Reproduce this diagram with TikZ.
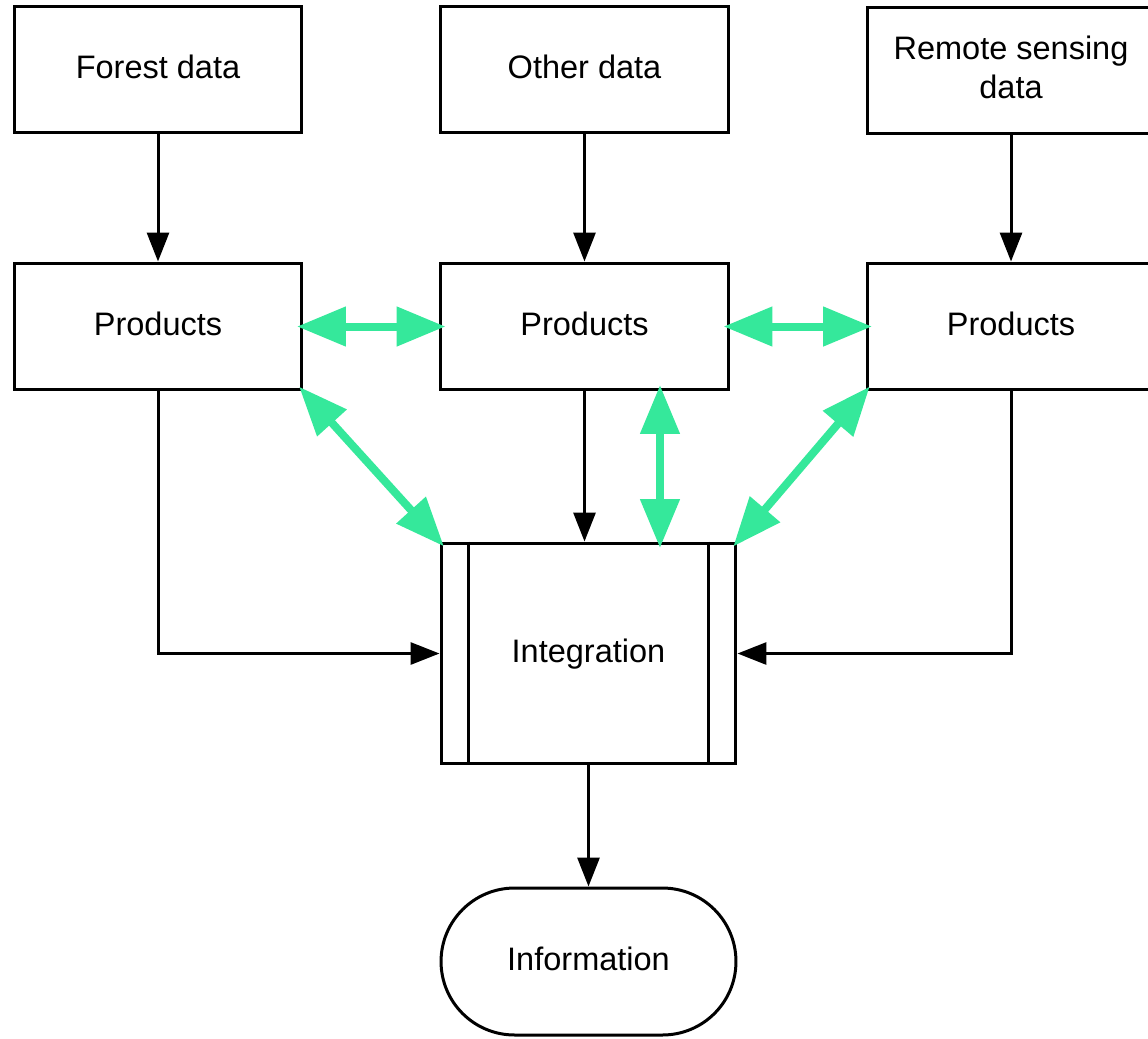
\documentclass[tikz,border=0pt]{standalone}
\usepackage{fontspec}
\setmainfont{Liberation Sans}
\usetikzlibrary{arrows.meta,calc}
\definecolor{grn}{HTML}{35E89B}
\begin{document}
\begin{tikzpicture}[x=0.02cm,y=-0.02cm,
  box/.style={draw=black,line width=0.06cm,fill=white,minimum width=5.76cm,minimum height=2.54cm,
    align=center,font=\fontsize{18.5}{22.2}\selectfont,inner sep=0pt,text depth=0.12cm},
  blk/.style={draw=black,line width=0.06cm,-{Triangle[length=0.58cm,width=0.44cm]}},
  grnarrow/.style={draw=grn,line width=0.16cm,shorten <=-0.13cm,shorten >=-0.13cm,
    {Triangle[length=0.98cm,width=0.76cm]}-{Triangle[length=0.98cm,width=0.76cm]}}]
\useasboundingbox (0,0) rectangle (1148,1038);
\clip (0,0) rectangle (1148,1038);
% top row
\node[box] (forest) at (158,69.5) {Forest data};
\node[box] (other) at (584.5,69.5) {Other data};
\node[box] (remote) at (1011,70.5) {Remote sensing\\data};
% products row
\node[box] (prodL) at (158,326.5) {Products};
\node[box] (prodM) at (584.5,326.5) {Products};
\node[box] (prodR) at (1011,326.5) {Products};
% integration
\node[box,minimum width=5.9cm,minimum height=4.42cm] (integ) at (588.5,653.5) {Integration};
\draw[line width=0.06cm] ([xshift=0.58cm]integ.north west) -- ([xshift=0.58cm]integ.south west);
\draw[line width=0.06cm] ([xshift=-0.58cm]integ.north east) -- ([xshift=-0.58cm]integ.south east);
% information
\node[box,minimum width=5.9cm,minimum height=2.94cm,rounded corners=1.47cm] (info) at (588.5,961.5) {Information};
% black connectors
\draw[blk] (forest) -- (prodL);
\draw[blk] (other) -- (prodM);
\draw[blk] (remote.south) -- (prodR.north);
\draw[blk] (prodM.south) -- (prodM.south |- integ.north);
\draw[blk] (prodL.south) |- (integ.west);
\draw[blk] (prodR.south) |- (integ.east);
\draw[blk] (integ) -- (info);
% green connectors
\coordinate (vtop) at ([xshift=1.51cm]prodM.south);
\coordinate (vbot) at (vtop |- integ.north);
\draw[grnarrow] (prodL.east) -- (prodM.west);
\draw[grnarrow] (prodM.east) -- (prodR.west);
\draw[grnarrow] (prodL.south east) -- (integ.north west);
\draw[grnarrow] (prodR.south west) -- (integ.north east);
\draw[grnarrow] (vtop) -- (vbot);
\end{tikzpicture}
\end{document}
